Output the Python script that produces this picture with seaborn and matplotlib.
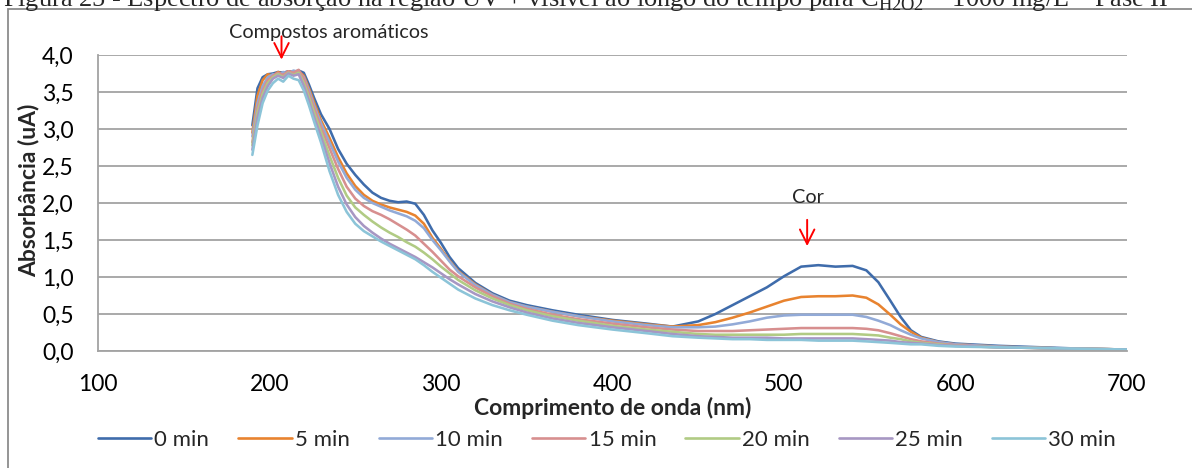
import numpy as np
import pandas as pd
import matplotlib
matplotlib.use("Agg")
import matplotlib.pyplot as plt
import seaborn as sns
from matplotlib.lines import Line2D
from matplotlib.patches import Rectangle

# Wavelength grid (nm)
wavelength = [190, 193, 196, 199, 202, 205, 208, 211, 214, 217, 220, 223, 226,
              230, 235, 240, 245, 250, 255, 260, 265, 270, 275, 280, 285, 290,
              295, 300, 305, 310, 320, 330, 340, 350, 365, 380, 400, 420, 435,
              450, 460, 470, 480, 490, 500, 510, 520, 530, 540, 548, 555, 562,
              568, 574, 580, 590, 600, 625, 650, 675, 700]

# Absorbance at each reaction time
abs_0 = [3.05, 3.55, 3.70, 3.74, 3.75, 3.77, 3.76, 3.78, 3.77, 3.79, 3.76, 3.60, 3.42,
         3.20, 3.00, 2.73, 2.53, 2.38, 2.25, 2.14, 2.07, 2.03, 2.01, 2.02, 1.99, 1.84,
         1.63, 1.46, 1.27, 1.12, 0.92, 0.78, 0.68, 0.62, 0.55, 0.49, 0.42, 0.37, 0.33,
         0.40, 0.50, 0.62, 0.74, 0.86, 1.01, 1.14, 1.16, 1.14, 1.15, 1.09, 0.93, 0.68,
         0.46, 0.28, 0.19, 0.13, 0.10, 0.07, 0.05, 0.03, 0.02]
abs_5 = [2.95, 3.45, 3.66, 3.74, 3.72, 3.77, 3.74, 3.78, 3.76, 3.78, 3.72, 3.55, 3.36,
         3.12, 2.88, 2.62, 2.40, 2.23, 2.11, 2.03, 1.98, 1.94, 1.91, 1.88, 1.83, 1.72,
         1.53, 1.38, 1.22, 1.08, 0.90, 0.76, 0.66, 0.60, 0.53, 0.47, 0.41, 0.36, 0.33,
         0.35, 0.39, 0.45, 0.52, 0.60, 0.68, 0.73, 0.74, 0.74, 0.75, 0.72, 0.63, 0.49,
         0.36, 0.26, 0.18, 0.12, 0.09, 0.06, 0.04, 0.03, 0.02]
abs_10 = [2.90, 3.35, 3.58, 3.70, 3.74, 3.72, 3.77, 3.75, 3.79, 3.77, 3.70, 3.52, 3.32,
          3.08, 2.82, 2.56, 2.34, 2.18, 2.07, 2.00, 1.95, 1.90, 1.86, 1.82, 1.76, 1.66,
          1.50, 1.36, 1.21, 1.07, 0.89, 0.76, 0.66, 0.60, 0.53, 0.47, 0.40, 0.35, 0.32,
          0.32, 0.33, 0.36, 0.40, 0.45, 0.48, 0.49, 0.49, 0.49, 0.49, 0.46, 0.41, 0.35,
          0.28, 0.22, 0.17, 0.12, 0.09, 0.06, 0.04, 0.03, 0.02]
abs_15 = [2.82, 3.28, 3.52, 3.66, 3.72, 3.76, 3.73, 3.78, 3.76, 3.80, 3.68, 3.48, 3.28,
          3.02, 2.74, 2.46, 2.22, 2.06, 1.96, 1.89, 1.84, 1.78, 1.71, 1.64, 1.56, 1.45,
          1.34, 1.22, 1.10, 1.01, 0.86, 0.74, 0.64, 0.57, 0.49, 0.43, 0.37, 0.32, 0.29,
          0.27, 0.27, 0.27, 0.28, 0.29, 0.30, 0.31, 0.31, 0.31, 0.31, 0.30, 0.28, 0.24,
          0.20, 0.16, 0.13, 0.10, 0.08, 0.05, 0.04, 0.03, 0.02]
abs_20 = [2.78, 3.22, 3.47, 3.62, 3.70, 3.74, 3.70, 3.76, 3.73, 3.76, 3.62, 3.43, 3.22,
          2.96, 2.64, 2.34, 2.10, 1.94, 1.84, 1.75, 1.67, 1.60, 1.54, 1.47, 1.41, 1.33,
          1.24, 1.14, 1.05, 0.96, 0.82, 0.71, 0.62, 0.55, 0.47, 0.41, 0.34, 0.29, 0.26,
          0.23, 0.22, 0.22, 0.22, 0.22, 0.22, 0.23, 0.23, 0.23, 0.23, 0.22, 0.21, 0.18,
          0.16, 0.13, 0.11, 0.09, 0.07, 0.05, 0.04, 0.03, 0.02]
abs_25 = [2.72, 3.15, 3.42, 3.58, 3.68, 3.72, 3.69, 3.75, 3.72, 3.74, 3.58, 3.38, 3.16,
          2.90, 2.54, 2.22, 1.98, 1.81, 1.69, 1.60, 1.52, 1.45, 1.39, 1.33, 1.27, 1.20,
          1.13, 1.05, 0.97, 0.90, 0.77, 0.67, 0.59, 0.52, 0.44, 0.38, 0.32, 0.27, 0.23,
          0.20, 0.19, 0.18, 0.18, 0.18, 0.17, 0.17, 0.17, 0.17, 0.17, 0.16, 0.15, 0.14,
          0.12, 0.11, 0.10, 0.08, 0.07, 0.05, 0.04, 0.03, 0.02]
abs_30 = [2.65, 3.05, 3.35, 3.52, 3.62, 3.68, 3.64, 3.72, 3.68, 3.66, 3.52, 3.32, 3.10,
          2.82, 2.43, 2.11, 1.88, 1.72, 1.62, 1.55, 1.48, 1.42, 1.36, 1.30, 1.24, 1.16,
          1.07, 0.99, 0.91, 0.83, 0.71, 0.62, 0.55, 0.49, 0.41, 0.35, 0.29, 0.24, 0.20,
          0.18, 0.17, 0.16, 0.16, 0.15, 0.15, 0.15, 0.14, 0.14, 0.14, 0.13, 0.12, 0.11,
          0.10, 0.09, 0.09, 0.07, 0.06, 0.05, 0.04, 0.03, 0.02]

series_labels = ["0 min", "5 min", "10 min", "15 min", "20 min", "25 min", "30 min"]
series_colors = ["#3F6CAB", "#E8832F", "#92AAD7", "#D78F8F", "#B1CB84", "#A797C3", "#8CC4D8"]

x_ticks = [100, 200, 300, 400, 500, 600, 700]
y_ticks = [0.0, 0.5, 1.0, 1.5, 2.0, 2.5, 3.0, 3.5, 4.0]
y_tick_labels = ["0,0", "0,5", "1,0", "1,5", "2,0", "2,5", "3,0", "3,5", "4,0"]

sns.set_theme(style="white")
plt.rcParams["font.family"] = ["Lato", "DejaVu Sans"]

all_series = [abs_0, abs_5, abs_10, abs_15, abs_20, abs_25, abs_30]
df = pd.DataFrame({
    "wl": np.tile(wavelength, len(all_series)),
    "absorb": np.concatenate(all_series),
    "tempo": np.repeat(series_labels, len(wavelength)),
})

W, H = 1192, 468
fig = plt.figure(figsize=(W / 100, H / 100), dpi=100)
ax = fig.add_axes([98 / W, 1 - 351 / H, 1029 / W, 296 / H])

sns.lineplot(data=df, x="wl", y="absorb", hue="tempo", hue_order=series_labels,
             palette=series_colors, linewidth=1.85, estimator=None, sort=False,
             legend=False, ax=ax)

grid_c = "#A3A3A3"
ax.set_xlim(100, 700)
ax.set_ylim(0, 4)
ax.set_xticks(x_ticks)
ax.set_xticklabels([str(v) for v in x_ticks])
ax.set_yticks(y_ticks)
ax.set_yticklabels(y_tick_labels)
ax.yaxis.grid(True, color=grid_c, linewidth=1.3)
ax.xaxis.grid(False)
ax.set_axisbelow(True)
for side in ["top", "right"]:
    ax.spines[side].set_visible(False)
for side in ["left", "bottom"]:
    ax.spines[side].set_color(grid_c)
    ax.spines[side].set_linewidth(1.3)
ax.tick_params(axis="both", direction="out", length=5.5, width=1.3, color=grid_c,
               labelsize=16.5, labelcolor="black")
ax.tick_params(axis="x", pad=11)
ax.tick_params(axis="y", pad=12)

ax.set_xlabel("Comprimento de onda (nm)", fontsize=16.5, fontweight="bold")
ax.set_ylabel("Absorbância (uA)", fontsize=16.5, fontweight="bold")
ax.xaxis.set_label_coords(0.5, (351 - 408) / 296)
ax.yaxis.set_label_coords((29 - 98) / 1029, (351 - 190) / 296)
ax.xaxis.label.set_va("center")
ax.yaxis.label.set_va("center")

# Annotations
arrow_kw = dict(arrowstyle="->", color="#FF0000", lw=1.4, mutation_scale=26)
ax.annotate("", xy=(207, 3.90), xytext=(207, 4.29), arrowprops=arrow_kw,
            annotation_clip=False)
ax.text(234.7, 4.30, "Compostos aromáticos", fontsize=14.3, ha="center", va="center",
        clip_on=False)
ax.annotate("", xy=(513.5, 1.38), xytext=(513.5, 1.81), arrowprops=arrow_kw,
            annotation_clip=False)
ax.text(514, 2.08, "Cor", fontsize=14.3, ha="center", va="center")

# Legend
handles = [Line2D([0], [0], color=c, lw=1.9) for c in series_colors]
ax.legend(handles, series_labels, loc="center", bbox_to_anchor=(607 / W, 1 - 440 / H),
          bbox_transform=fig.transFigure, ncol=7, frameon=False, fontsize=16,
          handlelength=2.4, handletextpad=0.15, columnspacing=1.3)

# Chart frame
fig.add_artist(Rectangle((8 / W, -0.2), 1.2, 1.2 - 9 / H, transform=fig.transFigure,
                         fill=False, edgecolor="#8C8C8C", linewidth=1.3))

# Figure caption
caption = fig.text(3 / W, 1 - 6 / H,
                   "Figura 25 - Espectro de absorção na região UV + visível ao longo do tempo para "
                   "C$_{\\mathregular{H2O2}}$ = 1000 mg/L – Fase II",
                   family="Liberation Serif", fontsize=18, ha="left", va="baseline")
fig.canvas.draw()
ext = caption.get_window_extent()
caption.set_fontsize(18 * 1167 / ext.width)

fig.savefig("out.png", dpi=100)
